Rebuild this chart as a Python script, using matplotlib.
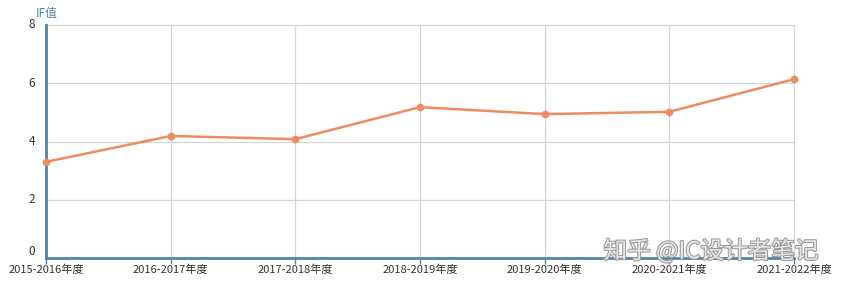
import matplotlib
matplotlib.use("Agg")
import matplotlib.pyplot as plt
import matplotlib.patheffects as pe

plt.rcParams['font.family'] = ['Noto Sans CJK SC', 'DejaVu Sans']

# data
years = ["2015-2016年度", "2016-2017年度", "2017-2018年度", "2018-2019年度",
         "2019-2020年度", "2020-2021年度", "2021-2022年度"]
if_values = [3.30, 4.19, 4.08, 5.18, 4.94, 5.02, 6.14]
y_ticks = [0, 2, 4, 6, 8]

axis_color = "#4f86a8"
line_color = "#ef8b60"

fig = plt.figure(figsize=(8.46, 2.87), dpi=100)
ax = fig.add_axes([46 / 846, 1 - 258 / 287, (794 - 46) / 846, (258 - 25) / 287])

x = list(range(len(years)))
ax.plot(x, if_values, color=line_color, linewidth=1.8, marker="o",
        markersize=4.5, zorder=3, clip_on=False)

ax.set_xlim(0, len(years) - 1)
ax.set_ylim(0, 8)
ax.set_xticks(x)
ax.set_xticklabels(years)
ax.set_yticks(y_ticks)

ax.grid(True, color="#d6d6d6", linewidth=0.9, clip_on=False)
ax.set_axisbelow(True)

for side in ("top", "right"):
    ax.spines[side].set_visible(False)
for side in ("left", "bottom"):
    ax.spines[side].set_color(axis_color)
    ax.spines[side].set_linewidth(2)

ax.tick_params(axis="x", colors="#333333", labelsize=8, length=4, width=1,
               color=axis_color, pad=1)
ax.tick_params(axis="y", colors="#333333", labelsize=8.5, length=0, pad=8)
for lbl in ax.get_yticklabels():
    lbl.set_verticalalignment("bottom" if lbl.get_text() == "0" else "center")

fig.text(36 / 846, 1 - 13 / 287, "IF值", color="#4f86a8", fontsize=8.5,
         ha="left", va="center")

# watermark
fig.text(711 / 846, 1 - 251 / 287, "知乎 @IC设计者笔记", fontsize=17,
         color="#e6e6e6", ha="center", va="center", zorder=10,
         path_effects=[pe.withStroke(linewidth=1.5, foreground="#9a9a9a")])

fig.savefig("out.png", dpi=100)
